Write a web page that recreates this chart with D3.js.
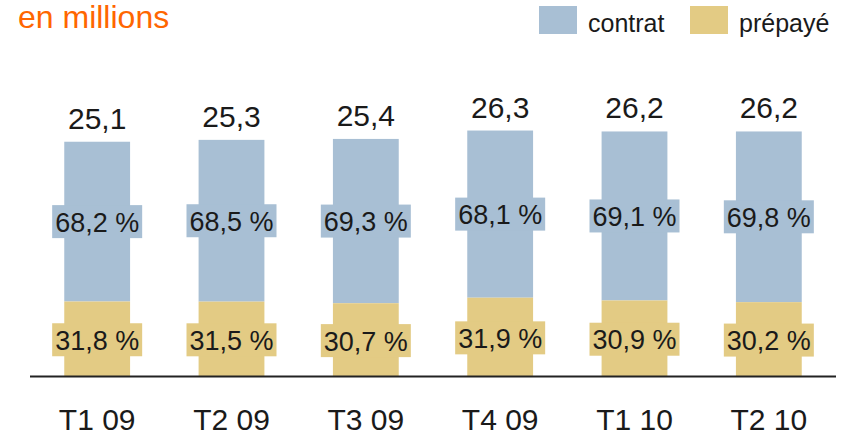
<!DOCTYPE html>
<html>
<head>
<meta charset="utf-8">
<script src="https://cdn.jsdelivr.net/npm/d3@7"></script>
<style>
  body { margin: 0; background: #fff; }
  svg { display: block; font-family: "Liberation Sans", Arial, sans-serif; }
</style>
</head>
<body>
<div id="chart"></div>
<script>
const categories = ["T1 09", "T2 09", "T3 09", "T4 09", "T1 10", "T2 10"]
const totals = [25.1, 25.3, 25.4, 26.3, 26.2, 26.2]
const contratPct = [68.2, 68.5, 69.3, 68.1, 69.1, 69.8]
const prepayePct = [31.8, 31.5, 30.7, 31.9, 30.9, 30.2]
const seriesNames = ["contrat", "prépayé"]

const size = [843, 436]
const colors = {contrat: "#a8bfd4", prepaye: "#e3cb84", orange: "#ff6600"}

const fr = d3.formatLocale({decimal: ",", thousands: " ", grouping: [3], currency: ["", " €"]})
const f1 = fr.format(".1f")

const rows = categories.map((c, i) => ({
  cat: c,
  total: totals[i],
  prepaye: totals[i] * prepayePct[i] / 100,
  contratPct: contratPct[i],
  prepayePct: prepayePct[i]
}))

const svg = d3.select("#chart").append("svg")
  .attr("width", size[0])
  .attr("height", size[1])

const x = d3.scaleBand()
  .domain(categories)
  .range([30, 836])
  .paddingInner(0.51)
  .paddingOuter(0.255)

const y = d3.scaleLinear()
  .domain([0, 30])
  .range([376, 96])

// bars
const bar = svg.append("g").selectAll("g")
  .data(rows)
  .join("g")

bar.append("rect")
  .attr("x", d => x(d.cat))
  .attr("width", x.bandwidth())
  .attr("y", d => y(d.total))
  .attr("height", d => y(d.prepaye) - y(d.total))
  .attr("fill", colors.contrat)

bar.append("rect")
  .attr("x", d => x(d.cat))
  .attr("width", x.bandwidth())
  .attr("y", d => y(d.prepaye))
  .attr("height", d => y(0) - y(d.prepaye))
  .attr("fill", colors.prepaye)

// percentage boxes
const boxW = 90, boxH = 33
function pctLabel(sel, getMid, getText, fill) {
  const g = sel.append("g")
    .attr("transform", d => `translate(${x(d.cat) + x.bandwidth() / 2},${getMid(d)})`)
  g.append("rect")
    .attr("x", -boxW / 2)
    .attr("y", -boxH / 2)
    .attr("width", boxW)
    .attr("height", boxH)
    .attr("fill", fill)
  g.append("text")
    .attr("text-anchor", "middle")
    .attr("y", 10)
    .attr("font-size", 27)
    .attr("fill", "#1a1a1a")
    .text(getText)
}

pctLabel(bar, d => (y(d.total) + y(d.prepaye)) / 2, d => f1(d.contratPct) + " %", colors.contrat)
pctLabel(bar, d => (y(d.prepaye) + y(0)) / 2 + 1, d => f1(d.prepayePct) + " %", colors.prepaye)

// totals
bar.append("text")
  .attr("x", d => x(d.cat) + x.bandwidth() / 2)
  .attr("y", d => y(d.total) - 13)
  .attr("text-anchor", "middle")
  .attr("font-size", 30)
  .attr("fill", "#1a1a1a")
  .text(d => f1(d.total))

// baseline
svg.append("line")
  .attr("x1", 30)
  .attr("x2", 836)
  .attr("y1", y(0) + 0.5)
  .attr("y2", y(0) + 0.5)
  .attr("stroke", "#222")
  .attr("stroke-width", 2)

// category axis
const xAxis = g => g
  .attr("transform", `translate(0,${y(0)})`)
  .call(d3.axisBottom(x).tickSize(0).tickPadding(0))
  .call(g => g.select(".domain").remove())
  .call(g => g.selectAll("text")
    .attr("dy", null)
    .attr("y", 54)
    .attr("font-size", 30)
    .attr("font-family", "Liberation Sans, Arial, sans-serif")
    .attr("fill", "#1a1a1a"))

svg.append("g").call(xAxis)

// title
svg.append("text")
  .attr("x", 18)
  .attr("y", 28)
  .attr("font-size", 32)
  .attr("fill", colors.orange)
  .text("en millions")

// legend
const legendX = [539, 690]
const legend = svg.append("g").selectAll("g")
  .data(seriesNames)
  .join("g")
  .attr("transform", (d, i) => `translate(${legendX[i]},6)`)

legend.append("rect")
  .attr("width", 38)
  .attr("height", 28)
  .attr("fill", (d, i) => i == 0 ? colors.contrat : colors.prepaye)

legend.append("text")
  .attr("x", 49)
  .attr("y", 26)
  .attr("font-size", 25)
  .attr("fill", "#1a1a1a")
  .text(d => d)
</script>
</body>
</html>
